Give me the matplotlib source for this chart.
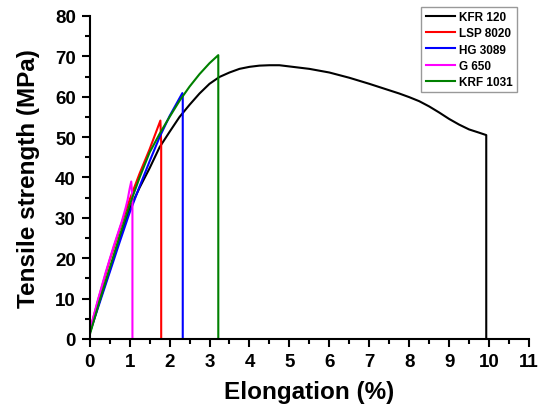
import numpy as np
import matplotlib.pyplot as plt
from matplotlib.ticker import MultipleLocator

plt.rcParams['font.family'] = ['Liberation Sans', 'DejaVu Sans']
plt.rcParams['font.weight'] = 'bold'

# Stress-strain curves (elongation %, tensile strength MPa)
kfr120_x = [0, 0.25, 0.5, 0.75, 1.0, 1.25, 1.5, 1.75, 2.0, 2.25, 2.5, 2.75, 3.0, 3.25,
            3.5, 3.75, 4.0, 4.25, 4.5, 4.75, 5.0, 5.5, 6.0, 6.5, 7.0, 7.5, 7.75, 8.0,
            8.25, 8.5, 8.75, 9.0, 9.25, 9.5, 9.75, 9.93, 9.93]
kfr120_y = [1.5, 9.5, 17.0, 24.8, 32.2, 37.5, 42.3, 47.5, 51.3, 55.0, 58.0, 60.8, 63.2, 64.9,
            66.0, 66.9, 67.4, 67.7, 67.8, 67.8, 67.5, 66.9, 66.0, 64.7, 63.2, 61.6, 60.8, 59.9,
            58.9, 57.6, 56.1, 54.5, 53.1, 51.9, 51.1, 50.5, 0]

lsp8020_x = [0, 0.25, 0.5, 0.75, 1.0, 1.25, 1.5, 1.77, 1.79, 1.79]
lsp8020_y = [2.0, 11.0, 19.5, 27.2, 34.5, 41.0, 47.0, 54.1, 48.5, 0]

hg3089_x = [0, 0.25, 0.5, 0.75, 1.0, 1.25, 1.5, 1.75, 2.0, 2.32, 2.33, 2.33]
hg3089_y = [1.5, 9.0, 16.5, 24.0, 31.3, 37.8, 44.0, 50.0, 55.2, 60.9, 60.0, 0]

g650_x = [0, 0.2, 0.4, 0.6, 0.8, 0.9, 0.95, 1.0, 1.04, 1.07, 1.07]
g650_y = [2.0, 9.5, 16.5, 23.0, 29.0, 32.5, 34.5, 37.2, 39.0, 35.0, 0]

krf1031_x = [0, 0.25, 0.5, 0.75, 1.0, 1.25, 1.5, 1.75, 2.0, 2.25, 2.5, 2.75, 3.0, 3.22, 3.22]
krf1031_y = [1.0, 9.5, 17.5, 25.5, 33.2, 40.0, 46.2, 50.8, 55.0, 59.0, 62.5, 65.6, 68.3, 70.3, 0]

series = [
    ('KFR 120', kfr120_x, kfr120_y, 'black'),
    ('LSP 8020', lsp8020_x, lsp8020_y, '#ff0000'),
    ('HG 3089', hg3089_x, hg3089_y, '#0000ff'),
    ('G 650', g650_x, g650_y, '#ff00ff'),
    ('KRF 1031', krf1031_x, krf1031_y, '#008000'),
]

fig = plt.figure(figsize=(5.45, 4.06), dpi=100)
ax = fig.add_axes([0.1646, 0.1626, 0.806, 0.7956])

for name, x, y, color in series:
    ax.plot(x, y, color=color, linewidth=1.5, label=name)

ax.set_xlim(0, 11)
ax.set_ylim(0, 80)
ax.xaxis.set_major_locator(MultipleLocator(1))
ax.xaxis.set_minor_locator(MultipleLocator(0.5))
ax.yaxis.set_major_locator(MultipleLocator(10))
ax.yaxis.set_minor_locator(MultipleLocator(5))

for side in ['top', 'right']:
    ax.spines[side].set_visible(False)
for side in ['left', 'bottom']:
    ax.spines[side].set_linewidth(1.5)

ax.tick_params(which='major', direction='out', length=6, width=1.5, labelsize=13.5, pad=4)
ax.tick_params(which='minor', direction='out', length=3.5, width=1.5)
for lab in ax.get_xticklabels() + ax.get_yticklabels():
    lab.set_fontweight('bold')

ax.set_xlabel('Elongation (%)', fontsize=17.5, fontweight='bold', labelpad=7)
ax.set_ylabel('Tensile strength (MPa)', fontsize=17.5, fontweight='bold', labelpad=11)

leg = ax.legend(loc='upper right', bbox_to_anchor=(0.973, 1.028), fontsize=8.5,
                frameon=True, fancybox=False, handlelength=2.5, borderpad=0.35,
                labelspacing=0.36, handletextpad=0.35, borderaxespad=0)
leg.get_frame().set_edgecolor('#808080')
leg.get_frame().set_linewidth(1.0)
for t in leg.get_texts():
    t.set_fontweight('bold')
leg.set_clip_on(False)

fig.savefig('out.png', dpi=100)
